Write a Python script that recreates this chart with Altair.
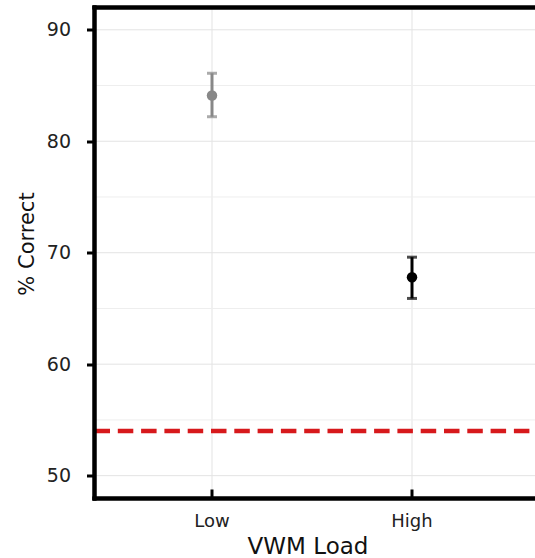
import altair as alt
import pandas as pd

loads = ["Low", "High"]
means = [84.1, 67.8]
lowers = [82.2, 65.9]
uppers = [86.1, 69.6]
colors = ["#888888", "#000000"]
chance = 54.0
major_grid = [50, 60, 70, 80, 90]
minor_grid = [55, 65, 75, 85]

df = pd.DataFrame({"load": loads, "mean": means, "lo": lowers, "hi": uppers, "color": colors})
df_chance = pd.DataFrame({"y": [chance]})
df_major = pd.DataFrame({"y": major_grid})
df_minor = pd.DataFrame({"y": minor_grid})

W, H = 440.5, 491
FONT = "DejaVu Sans"

# point scale (default padding 0.5): Low at 117.5, High at 317.5
xscale = alt.Scale(domain=loads, range=[17.5, 417.5])
yscale = alt.Scale(domain=[47.95, 92.0], nice=False, zero=False)

xenc = alt.X("load:N", scale=xscale, sort=loads,
             axis=alt.Axis(title="VWM Load", labelAngle=0, ticks=False, tickSize=0,
                           labelPadding=14, labelFontSize=18, labelColor="#222222",
                           labelFont=FONT, titleFont=FONT, titleFontSize=23,
                           titleFontWeight="normal", titleColor="#111111",
                           titleX=213, titleY=55, titleBaseline="alphabetic",
                           grid=True, gridColor="#e3e3e3", gridWidth=1, domain=False))

yaxis = alt.Axis(title="% Correct", values=major_grid, tickSize=8, tickWidth=3,
                 tickColor="#000000", labelPadding=16, labelFontSize=19,
                 labelColor="#222222", labelFont=FONT, titleFont=FONT, titleFontSize=21,
                 titleFontWeight="normal", titleColor="#111111", titleX=-61.5, titleY=236,
                 titleBaseline="alphabetic", grid=False, domain=False)

base = alt.Chart(df)

minor = alt.Chart(df_minor).mark_rule(color="#eeeeee", strokeWidth=1).encode(
    y=alt.Y("y:Q", scale=yscale, axis=yaxis), x=alt.value(0), x2=alt.value(W + 10)
)
major = alt.Chart(df_major).mark_rule(color="#e3e3e3", strokeWidth=1).encode(
    y=alt.Y("y:Q", scale=yscale), x=alt.value(0), x2=alt.value(W + 10)
)

xticks = base.mark_rule(color="#000000", strokeWidth=3).encode(
    x=xenc, y=alt.value(H - 9), y2=alt.value(H)
)

chance_line = alt.Chart(df_chance).mark_rule(
    color="#d7191c", strokeWidth=4.5, strokeDash=[15.5, 7.8]
).encode(y=alt.Y("y:Q", scale=yscale), x=alt.value(0), x2=alt.value(W + 10))

bars = base.mark_rule(strokeWidth=3).encode(
    x=xenc,
    y=alt.Y("lo:Q", scale=yscale),
    y2="hi:Q",
    color=alt.Color("color:N", scale=None),
)

cap_lo = base.mark_tick(size=10, thickness=3).encode(
    x=xenc, y=alt.Y("lo:Q", scale=yscale), color=alt.Color("color:N", scale=None)
)
cap_hi = base.mark_tick(size=10, thickness=3).encode(
    x=xenc, y=alt.Y("hi:Q", scale=yscale), color=alt.Color("color:N", scale=None)
)

pts = base.mark_circle(size=110, opacity=1).encode(
    x=xenc, y=alt.Y("mean:Q", scale=yscale), color=alt.Color("color:N", scale=None)
)

border_left = base.mark_rule(color="#000000", strokeWidth=4, strokeCap="square").encode(
    x=alt.value(0), y=alt.value(0), y2=alt.value(H)
)
border_top = base.mark_rule(color="#000000", strokeWidth=4, strokeCap="square").encode(
    x=alt.value(0), x2=alt.value(W + 10), y=alt.value(0)
)
border_bottom = base.mark_rule(color="#000000", strokeWidth=4, strokeCap="square").encode(
    x=alt.value(0), x2=alt.value(W + 10), y=alt.value(H)
)

chart = alt.layer(minor, major, xticks, chance_line, bars, cap_lo, cap_hi, pts,
                  border_left, border_top, border_bottom).properties(
    width=W, height=H,
    autosize=alt.AutoSizeParams(type="none"),
    padding={"left": 94.5, "top": 7.5, "right": 0, "bottom": 59.5},
    background="#ffffff",
).configure_view(stroke=None)

chart.save("out.html", embed_options={"renderer": "svg", "actions": False})
